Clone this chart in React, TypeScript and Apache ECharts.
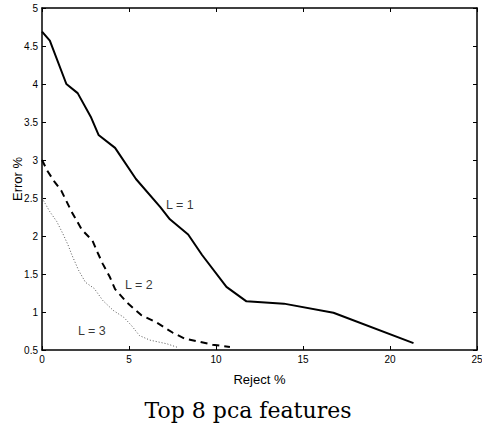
import React, { useEffect, useRef } from "react";
import * as echarts from "echarts";

const xTicks = [0, 5, 10, 15, 20, 25];
const yTicks = [0.5, 1, 1.5, 2, 2.5, 3, 3.5, 4, 4.5, 5];

const l1X = [0, 0.45, 1.4, 2.05, 2.8, 3.25, 4.2, 5.4, 6.8, 7.35, 8.4, 9.2, 10.6, 11.75, 13.9, 16.75, 21.35];
const l1Y = [4.69, 4.57, 4.0, 3.88, 3.57, 3.33, 3.16, 2.75, 2.38, 2.22, 2.02, 1.75, 1.33, 1.14, 1.11, 0.99, 0.59];

const l2X = [0, 0.3, 0.7, 1.1, 1.7, 2.3, 2.9, 3.2, 3.5, 3.9, 4.2, 4.9, 5.7, 6.6, 7.5, 8.2, 9.8, 10.8];
const l2Y = [3.0, 2.86, 2.72, 2.6, 2.32, 2.08, 1.94, 1.78, 1.63, 1.46, 1.3, 1.12, 0.96, 0.86, 0.73, 0.65, 0.57, 0.54];

const l3X = [0, 0.45, 0.85, 1.2, 1.5, 1.7, 2.1, 2.5, 3.0, 3.5, 4.1, 4.7, 5.15, 5.6, 6.2, 7.2, 7.85];
const l3Y = [2.5, 2.32, 2.19, 2.03, 1.88, 1.76, 1.55, 1.39, 1.31, 1.15, 1.02, 0.93, 0.82, 0.69, 0.63, 0.58, 0.53];

const labelTexts = ["L = 1", "L = 2", "L = 3"];
const labelX = [7.13, 4.77, 2.07];
const labelY = [2.41, 1.35, 0.75];

const xTitle = "Reject %";
const yTitle = "Error %";
const chartTitle = "Top 8 pca features";

const zip = (xs: number[], ys: number[]) => xs.map((x, i) => [x, ys[i]]);

export default function App() {
  const ref = useRef<HTMLDivElement>(null);
  useEffect(() => {
    if (!ref.current) return;
    const chart = echarts.init(ref.current, undefined, { renderer: "svg" });
    const sans = "'Liberation Sans', Arial, Helvetica, sans-serif";
    const axisCommon = {
      min: 0,
      max: 25,
      interval: 5,
      axisLine: { show: true, onZero: false, lineStyle: { color: "#000", width: 1.5 } },
      axisTick: { show: true, inside: true, length: 4, lineStyle: { color: "#000" } },
      splitLine: { show: false },
    };
    const yCommon = {
      min: 0.5,
      max: 5,
      interval: 0.5,
      axisLine: { show: true, onZero: false, lineStyle: { color: "#000", width: 1.5 } },
      axisTick: { show: true, inside: true, length: 4, lineStyle: { color: "#000" } },
      splitLine: { show: false },
    };
    chart.setOption({
      animation: false,
      backgroundColor: "#fff",
      grid: { left: 42, right: 5, top: 8, bottom: 75, containLabel: false, outerBoundsMode: "none" },
      xAxis: [
        {
          type: "value",
          position: "bottom",
          ...axisCommon,
          axisLabel: {
            color: "#000",
            fontFamily: sans,
            fontSize: 10,
            margin: 4,
            formatter: (v: number) => (xTicks.includes(v) ? String(v) : ""),
          },
          name: xTitle,
          nameLocation: "middle",
          nameGap: 23,
          nameMoveOverlap: false,
          nameTextStyle: { color: "#000", fontFamily: sans, fontSize: 13 },
        },
        {
          type: "value",
          position: "top",
          ...axisCommon,
          axisLabel: { show: false },
        },
      ],
      yAxis: [
        {
          type: "value",
          position: "left",
          ...yCommon,
          axisLabel: {
            color: "#000",
            fontFamily: sans,
            fontSize: 10,
            margin: 4,
            formatter: (v: number) => (yTicks.includes(v) ? String(v) : ""),
          },
          name: yTitle,
          nameLocation: "middle",
          nameRotate: 90,
          nameGap: 18,
          nameMoveOverlap: false,
          nameTextStyle: { color: "#000", fontFamily: sans, fontSize: 13 },
        },
        {
          type: "value",
          position: "right",
          ...yCommon,
          axisLabel: { show: false },
        },
      ],
      series: [
        {
          type: "line",
          data: zip(l1X, l1Y),
          showSymbol: false,
          lineStyle: { color: "#000", width: 2 },
        },
        {
          type: "line",
          data: zip(l2X, l2Y),
          showSymbol: false,
          lineStyle: { color: "#000", width: 2, type: [7, 5] },
        },
        {
          type: "line",
          data: zip(l3X, l3Y),
          showSymbol: false,
          lineStyle: { color: "#555", width: 1, type: [1, 2] },
        },
        {
          type: "scatter",
          symbolSize: 0,
          data: labelX.map((x, i) => ({ value: [x, labelY[i]], name: labelTexts[i] })),
          label: {
            show: true,
            position: "right",
            distance: 0,
            formatter: (p: any) => p.name,
            color: "#000",
            fontFamily: sans,
            fontSize: 12.5,
          },
        },
      ],
      graphic: [
        {
          type: "text",
          x: 248,
          y: 410,
          style: {
            text: chartTitle,
            fontFamily: "'DejaVu Serif', serif",
            fontSize: 22,
            fill: "#000",
            textAlign: "center",
            textVerticalAlign: "middle",
          },
        },
      ],
    });
    return () => chart.dispose();
  }, []);
  return <div ref={ref} style={{ width: 482, height: 425, position: "absolute", left: 0, top: 0 }} />;
}
